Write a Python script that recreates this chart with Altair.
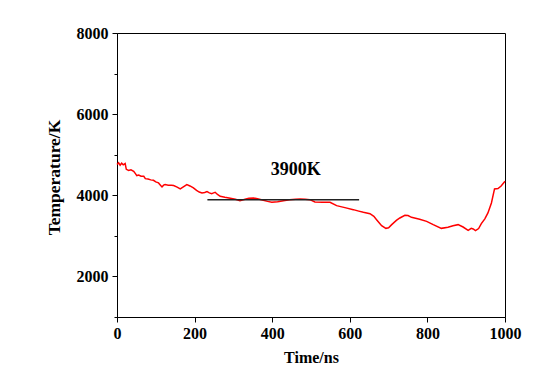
import altair as alt
import pandas as pd

# Red temperature trace (Time/ns, Temperature/K)
time_ns = [0, 4, 8, 12, 16, 21, 24, 30, 36, 43, 47, 51, 56, 62, 69, 73, 80, 87, 94, 100, 107, 112, 116,
           120, 124, 132, 140, 146, 155, 163, 170, 180, 188, 197, 205, 212, 219, 226, 232, 238, 244,
           249, 253, 259, 266, 278, 292, 305, 317, 330, 340, 352, 362, 377, 388, 399, 414, 429, 445,
           460, 472, 485, 497, 510, 530, 549, 566, 590, 609, 623, 635, 652, 662, 669, 682, 693, 700,
           708, 720, 729, 742, 750, 759, 780, 798, 815, 836, 853, 866, 879, 892, 905, 913, 918, 924,
           932, 939, 948, 956, 965, 973, 982, 990, 1000]
temp_k = [4760, 4800, 4740, 4790, 4750, 4782, 4640, 4610, 4630, 4593, 4540, 4486, 4500, 4470, 4469,
          4410, 4400, 4380, 4370, 4330, 4305, 4250, 4206, 4250, 4263, 4250, 4245, 4239, 4200, 4156,
          4200, 4263, 4230, 4181, 4120, 4080, 4058, 4070, 4090, 4060, 4041, 4060, 4074, 4020, 3975,
          3950, 3926, 3900, 3868, 3900, 3925, 3934, 3915, 3877, 3850, 3827, 3840, 3868, 3890, 3905,
          3909, 3900, 3893, 3835, 3830, 3827, 3745, 3690, 3646, 3610, 3580, 3547, 3480, 3399, 3251,
          3185, 3200, 3276, 3380, 3440, 3506, 3500, 3457, 3410, 3358, 3276, 3185, 3210, 3250, 3276,
          3218, 3136, 3185, 3170, 3128, 3180, 3300, 3420, 3564, 3811, 4156, 4165, 4230, 4346]

# Reference level line
ref_time = [233, 624]
ref_temp = [3893, 3893]

label_text = ["3900K"]
label_time = [461]
label_temp = [4634]

x_ticks = list(range(0, 1001, 100))
y_ticks = list(range(1000, 8001, 1000))

df = pd.DataFrame({"t": time_ns, "T": temp_k})
df_ref = pd.DataFrame({"t": ref_time, "T": ref_temp})
df_lab = pd.DataFrame({"t": label_time, "T": label_temp, "txt": label_text})

font = "Liberation Serif"

x_scale = alt.Scale(domain=[0, 1000], nice=False, zero=False)
y_scale = alt.Scale(domain=[1000, 8000], nice=False, zero=False)

x_axis = alt.Axis(
    title="Time/ns", values=x_ticks,
    labelExpr="datum.value % 200 == 0 ? datum.label : ''",
    format="d", grid=False,
    tickSize={"expr": "datum.value % 200 == 0 ? 5 : 3"},
    labelFont=font, labelFontWeight="bold", labelFontSize=16, labelColor="black",
    labelPadding=3, labelFlush=False, labelOverlap=False,
    titleFont=font, titleFontWeight="bold", titleFontSize=16, titleColor="black",
    titleY=40, titleBaseline="middle",
    domainColor="black", tickColor="black",
)
y_axis = alt.Axis(
    title="Temperature/K", values=y_ticks,
    labelExpr="datum.value % 2000 == 0 ? datum.label : ''",
    format="d", grid=False,
    tickSize={"expr": "datum.value % 2000 == 0 ? 5 : 3"},
    labelFont=font, labelFontWeight="bold", labelFontSize=16, labelColor="black",
    labelPadding=4, labelFlush=False, labelOverlap=False,
    titleFont=font, titleFontWeight="bold", titleFontSize=17.5, titleColor="black",
    titleAngle=-90, titleX=-63, titleY=144, titleBaseline="middle", titleAlign="center",
    domainColor="black", tickColor="black",
)

line = alt.Chart(df).mark_line(color="#ff0000", strokeWidth=1.5).encode(
    x=alt.X("t:Q", scale=x_scale, axis=x_axis),
    y=alt.Y("T:Q", scale=y_scale, axis=y_axis),
)
ref = alt.Chart(df_ref).mark_line(color="#222222", strokeWidth=1.5).encode(
    x=alt.X("t:Q", scale=x_scale),
    y=alt.Y("T:Q", scale=y_scale),
)
lab = alt.Chart(df_lab).mark_text(font=font, fontWeight="bold", fontSize=18, color="black",
                                  align="center", baseline="middle").encode(
    x=alt.X("t:Q", scale=x_scale),
    y=alt.Y("T:Q", scale=y_scale),
    text="txt:N",
)

chart = alt.layer(line, ref, lab).properties(
    width=388, height=284,
    autosize=alt.AutoSizeParams(type="none"),
    padding={"left": 109, "top": 25, "right": 37, "bottom": 59},
    background="white",
).configure_view(stroke="black", strokeWidth=1)

chart.save("out.html", embed_options={"renderer": "svg", "actions": False})
